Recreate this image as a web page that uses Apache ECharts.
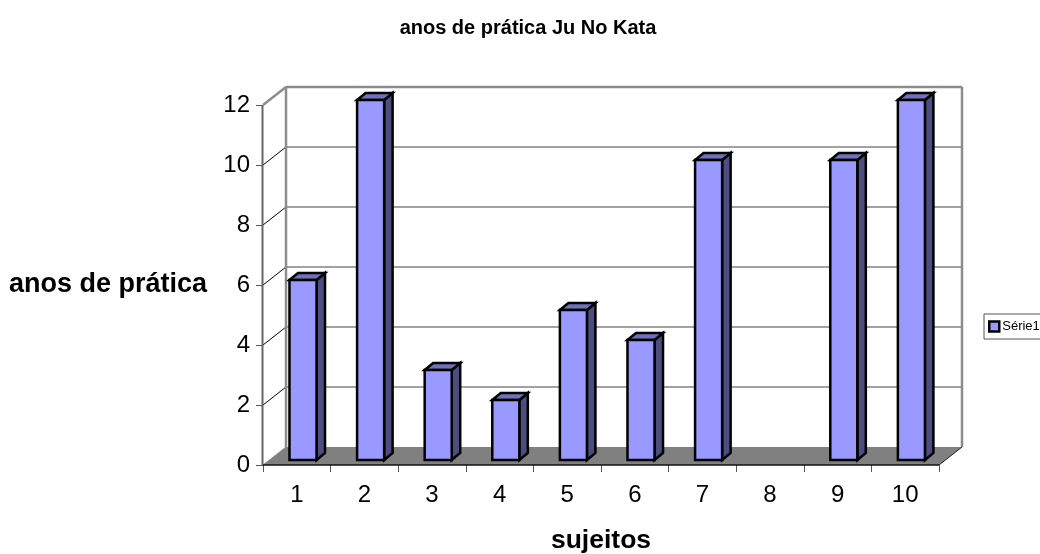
<!DOCTYPE html>
<html>
<head>
<meta charset="utf-8">
<style>html,body{margin:0;padding:0;background:#fff;overflow:hidden}#c{width:1040px;height:554px}</style>
<script src="https://cdn.jsdelivr.net/npm/echarts@6/dist/echarts.min.js"></script>
</head>
<body>
<div id="c"></div>
<script>
const subjects = ['1','2','3','4','5','6','7','8','9','10'];
const years = [6,12,3,2,5,4,10,0,10,12];
const yTicks = [0,2,4,6,8,10,12];

// Oblique projection of the chart box: how far the back wall sits from the front plane.
const DEPTH_X = 23, DEPTH_Y = -18;
// Bars stand in the middle of the box and have a shallow depth of their own.
const BAR_X = 6.2, BAR_Y = -5, BAR_DX = 8.5, BAR_DY = -7;
const BAR_RATIO = 0.4;

const FACE = '#9999ff', SIDE = '#4d4d80', TOP = '#7070bb';
const WALL = '#8c8c8c', FLOOR = '#808080', AXIS = '#666';
const FONT = '"Liberation Sans",Arial,sans-serif';

function line(x1,y1,x2,y2,stroke,lineWidth){
  return {type:'line',shape:{x1,y1,x2,y2},style:{stroke,lineWidth,fill:null}};
}
function poly(points,fill,stroke,lineWidth){
  return {type:'polygon',shape:{points},style:{fill,stroke,lineWidth,lineJoin:'miter'}};
}

// Floor, back wall, side wall and gridlines of the box.
function renderBox(params,api){
  const cs = params.coordSys;
  const x0 = cs.x, x1 = cs.x+cs.width;
  const yBase = api.coord([0,0])[1], yTop = api.coord([0,12])[1];
  const kids = [];
  kids.push(poly([[x0,yBase],[x1,yBase],[x1+DEPTH_X,yBase+DEPTH_Y],[x0+DEPTH_X,yBase+DEPTH_Y]],FLOOR,null,0));
  yTicks.slice(1,-1).forEach(v=>{
    const y = api.coord([0,v])[1];
    kids.push(line(x0,y,x0+DEPTH_X,y+DEPTH_Y,'#000',1));
    kids.push(line(x0+DEPTH_X,y+DEPTH_Y,x1+DEPTH_X,y+DEPTH_Y,'#444',1));
  });
  kids.push(line(x0+DEPTH_X,yTop+DEPTH_Y,x0+DEPTH_X,yBase+DEPTH_Y,WALL,2.5));
  kids.push(line(x0+DEPTH_X,yTop+DEPTH_Y,x1+DEPTH_X,yTop+DEPTH_Y,WALL,2.5));
  kids.push(line(x1+DEPTH_X,yTop+DEPTH_Y,x1+DEPTH_X,yBase+DEPTH_Y,WALL,2.5));
  kids.push(line(x0,yTop,x0+DEPTH_X,yTop+DEPTH_Y,WALL,2.5));
  kids.push(line(x0-0.5,yTop,x0-0.5,yBase,AXIS,2));
  kids.push(line(x1,yBase,x1+DEPTH_X,yBase+DEPTH_Y,'#222',1));
  kids.push(line(x0,yBase,x0+DEPTH_X,yBase+DEPTH_Y,WALL,1));
  kids.push(line(x0,yBase,x1,yBase,'#111',1.5));
  return {type:'group',children:kids};
}

// One extruded bar: front face, right side, top.
function renderBar(params,api){
  const v = api.value(1);
  if(!v) return null;
  const base = api.coord([api.value(0),0]);
  const top = api.coord([api.value(0),v]);
  const w = api.size([1,0])[0]*BAR_RATIO;
  const l = base[0]-w/2+BAR_X, r = l+w;
  const t = top[1]+BAR_Y, b = base[1]+BAR_Y;
  const stroke = '#000', lw = 2.5;
  return {type:'group',children:[
    poly([[r,t],[r+BAR_DX,t+BAR_DY],[r+BAR_DX,b+BAR_DY],[r,b]],SIDE,stroke,lw),
    poly([[l,t],[l+BAR_DX,t+BAR_DY],[r+BAR_DX,t+BAR_DY],[r,t]],TOP,stroke,lw),
    poly([[l,t],[r,t],[r,b],[l,b]],FACE,stroke,lw)
  ]};
}

const chart = echarts.init(document.getElementById('c'),null,{renderer:'canvas'});
chart.setOption({
  animation:false,
  backgroundColor:'#fff',
  textStyle:{fontFamily:FONT,color:'#000'},
  title:{
    text:'anos de prática Ju No Kata',
    left:523,top:13,textAlign:'center',
    textStyle:{fontSize:20,fontWeight:'bold',color:'#000',fontFamily:FONT}
  },
  legend:{
    left:984,top:314,
    padding:[6,4,6,4],
    backgroundColor:'#fff',borderColor:'#555',borderWidth:1,borderRadius:0,
    itemWidth:10,itemHeight:10,itemGap:0,
    data:[{name:'Série1',icon:'rect',itemStyle:{color:FACE,borderColor:'#000',borderWidth:2.5}}],
    textStyle:{fontSize:13,color:'#000',padding:[0,0,0,-2],fontFamily:FONT}
  },
  grid:{left:263,right:101,top:105,bottom:89,outerBoundsMode:'none'},
  xAxis:{
    type:'category',data:subjects,
    name:'sujeitos',nameLocation:'middle',nameGap:76,nameMoveOverlap:false,
    nameTextStyle:{fontSize:26.5,fontWeight:'bold',color:'#000',verticalAlign:'middle'},
    axisLine:{show:false},
    axisTick:{show:true,length:7,alignWithLabel:false,lineStyle:{color:'#555',width:1}},
    axisLabel:{fontSize:24,color:'#000',margin:18},
    splitLine:{show:false}
  },
  yAxis:{
    type:'value',min:0,max:12,interval:2,
    name:'anos de prática',nameLocation:'middle',nameGap:155,nameRotate:0,nameMoveOverlap:false,
    nameTextStyle:{fontSize:27,fontWeight:'bold',color:'#000',align:'center'},
    axisLine:{show:false},
    axisTick:{show:true,length:7,lineStyle:{color:'#555',width:1}},
    axisLabel:{fontSize:24,color:'#000',margin:13},
    splitLine:{show:false}
  },
  series:[
    {type:'custom',name:'box',coordinateSystem:'cartesian2d',silent:true,z:1,data:[[0,0]],renderItem:renderBox},
    {type:'custom',name:'Série1',coordinateSystem:'cartesian2d',z:2,
      encode:{x:0,y:1},
      itemStyle:{color:FACE},
      data:years.map((v,i)=>[i,v]),renderItem:renderBar}
  ]
});
</script>
</body>
</html>
